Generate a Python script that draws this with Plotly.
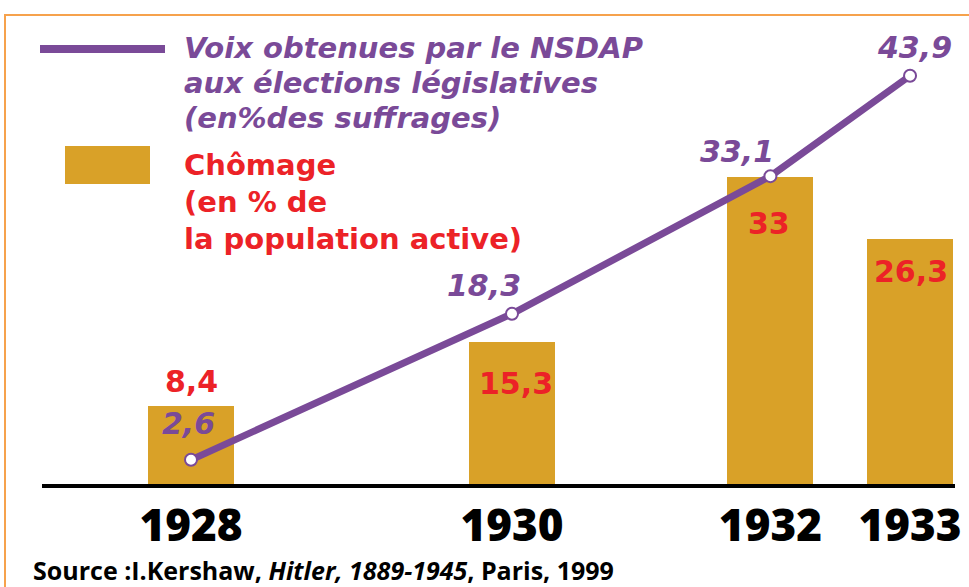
import plotly.graph_objects as go

# ---- data ----
years = ["1928", "1930", "1932", "1933"]
chomage = [8.4, 15.3, 33, 26.3]
nsdap = [2.6, 18.3, 33.1, 43.9]
source_text = "Source :I.Kershaw, <i>Hitler, 1889-1945</i>, Paris, 1999"
legend_line_text = ["Voix obtenues par le NSDAP", "aux élections législatives", "(en%des suffrages)"]
legend_bar_text = ["Chômage", "(en % de", "la population active)"]

# ---- layout helpers (positions / styles) ----
slots = [0, 2.0, 3.61, 4.48]          # horizontal placement of the years on the axis
BAR_W = 0.536
X0, UNIT = 191, 160.5                 # pixel of slot 0, pixels per slot unit
W, H = 969, 587
ML, MR, MT, MB = 42, 14, 15, 103
PW, PH = W - ML - MR, H - MT - MB
PX_PER_PCT = 9.3

PURPLE = "#7A4A98"
GOLD = "#D9A128"
RED = "#EC2227"
ORANGE = "#F6A24C"
LEGFONT = "DejaVu Sans, sans-serif"
YEARFONT = "Open Sans, sans-serif"


def fmt(v):
    return str(int(v)) if float(v).is_integer() else f"{v:.1f}".replace(".", ",")


def px(x):
    return (x - ML) / PW


def py(y):
    return (H - MB - y) / PH


fig = go.Figure()
fig.add_trace(go.Bar(x=slots, y=chomage, width=BAR_W, marker=dict(color=GOLD, line=dict(width=0)),
                     hoverinfo="skip", showlegend=False))
fig.add_trace(go.Scatter(x=slots, y=nsdap, mode="lines+markers",
                         line=dict(color=PURPLE, width=7),
                         marker=dict(size=12, color="white", line=dict(color=PURPLE, width=2)),
                         hoverinfo="skip", showlegend=False))

annotations = []
# line value labels (offsets in pixels from each point)
line_shift = [(-3, 36), (-28, 28), (-33, 25), (4, 28)]
for s, v, (dx, dy) in zip(slots, nsdap, line_shift):
    annotations.append(dict(x=s, y=v, text=f"<b><i>{fmt(v)}</i></b>", showarrow=False,
                            xshift=dx, yshift=dy, font=dict(family=LEGFONT, size=30, color=PURPLE)))
# bar value labels (offsets in pixels from each bar top)
bar_shift = [(0, 24), (4, -42), (-1, -46), (1, -32)]
for s, v, (dx, dy) in zip(slots, chomage, bar_shift):
    annotations.append(dict(x=s, y=v, text=f"<b>{fmt(v)}</b>", showarrow=False,
                            xshift=dx, yshift=dy, font=dict(family=LEGFONT, size=30, color=RED)))

# legend texts
for i, t in enumerate(legend_line_text):
    annotations.append(dict(xref="paper", yref="paper", x=px(182), y=py(48 + 35 * i), text=f"<b><i>{t}</i></b>",
                            showarrow=False, xanchor="left", yanchor="middle",
                            font=dict(family=LEGFONT, size=29, color=PURPLE)))
for i, t in enumerate(legend_bar_text):
    annotations.append(dict(xref="paper", yref="paper", x=px(182), y=py(165 + 37 * i), text=f"<b>{t}</b>",
                            showarrow=False, xanchor="left", yanchor="middle",
                            font=dict(family=LEGFONT, size=29, color=RED)))
# source
annotations.append(dict(xref="paper", yref="paper", x=px(31), y=py(570), text=f"<b>{source_text}</b>",
                        showarrow=False, xanchor="left", yanchor="middle",
                        font=dict(family=YEARFONT, size=25, color="black")))

shapes = [
    # orange frame
    dict(type="rect", xref="paper", yref="paper", x0=px(5), x1=px(1000), y0=py(620), y1=py(15),
         line=dict(color=ORANGE, width=2), fillcolor="rgba(0,0,0,0)", layer="below"),
    # legend line sample
    dict(type="line", xref="paper", yref="paper", x0=px(40), x1=px(165), y0=py(49), y1=py(49),
         line=dict(color=PURPLE, width=8)),
    # legend bar swatch
    dict(type="rect", xref="paper", yref="paper", x0=px(65), x1=px(150), y0=py(184), y1=py(146),
         line=dict(width=0), fillcolor=GOLD),
]

fig.update_layout(
    width=W, height=H,
    margin=dict(l=ML, r=MR, t=MT, b=MB),
    paper_bgcolor="white", plot_bgcolor="white",
    xaxis=dict(range=[(ML - X0) / UNIT, (W - MR - X0) / UNIT], tickvals=slots, ticktext=years,
               showgrid=False, zeroline=False, showline=True, linecolor="black", linewidth=4,
               ticks="", tickfont=dict(family=YEARFONT, size=44, color="black", weight=800),
               automargin=False, fixedrange=True),
    yaxis=dict(range=[0, PH / PX_PER_PCT], visible=False, showgrid=False, zeroline=False,
               automargin=False, fixedrange=True),
    annotations=annotations, shapes=shapes, bargap=0,
)

fig.write_html("out.html", config={"displayModeBar": False},
               post_script="document.body.style.margin='0';document.body.style.overflow='hidden';")
